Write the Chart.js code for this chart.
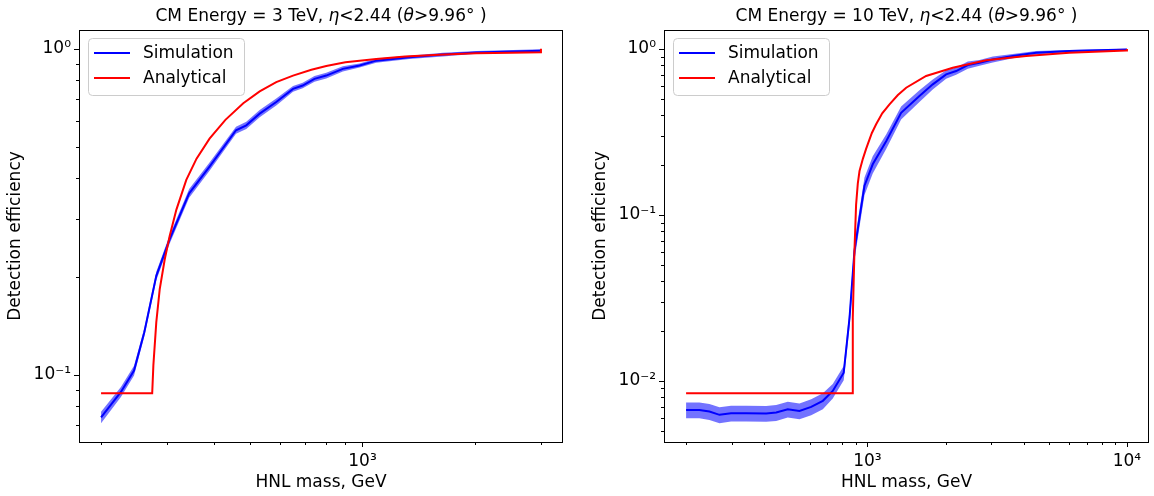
<!DOCTYPE html>
<html>
<head>
<meta charset="utf-8">
<script src="https://cdn.jsdelivr.net/npm/chart.js@4.4.1/dist/chart.umd.min.js"></script>
<style>
  html, body { margin: 0; padding: 0; background: #fff; }
  #wrap { position: relative; width: 1154px; height: 496px; }
  .pane { position: absolute; top: 0; width: 577px; height: 496px; }
</style>
</head>
<body>
<div id="wrap">
  <div class="pane" style="left:0"><canvas id="chart3"></canvas></div>
  <div class="pane" style="left:577px"><canvas id="chart10"></canvas></div>
</div>
<script>
// ---- 3 TeV ----
const mass3Sim = [200, 226, 245, 261, 281, 305, 344, 390, 459, 489, 531, 588, 652, 692, 744, 800, 886, 982, 1088, 1335, 1640, 2015, 3000];
const eff3Sim  = [0.074, 0.0886, 0.103, 0.135, 0.201, 0.260, 0.360, 0.435, 0.562, 0.582, 0.632, 0.686, 0.753, 0.771, 0.808, 0.827, 0.867, 0.888, 0.919, 0.941, 0.959, 0.974, 0.986];
const eff3Lo   = [0.0710, 0.0855, 0.0994, 0.131, 0.195, 0.252, 0.349, 0.422, 0.548, 0.567, 0.616, 0.669, 0.738, 0.756, 0.792, 0.810, 0.851, 0.875, 0.905, 0.930, 0.947, 0.964, 0.976];
const eff3Hi   = [0.0770, 0.0917, 0.1066, 0.139, 0.207, 0.268, 0.371, 0.448, 0.576, 0.597, 0.648, 0.703, 0.768, 0.786, 0.824, 0.844, 0.883, 0.901, 0.933, 0.952, 0.971, 0.984, 0.996];
const mass3Ana = [200, 274, 276, 281, 287, 296, 305, 318, 338, 360, 390, 430, 480, 531, 588, 652, 730, 800, 900, 1088, 1300, 1600, 2015, 2500, 3000, 3000];
const eff3Ana  = [0.0877, 0.0877, 0.107, 0.145, 0.183, 0.226, 0.266, 0.321, 0.396, 0.460, 0.530, 0.605, 0.680, 0.740, 0.790, 0.827, 0.862, 0.885, 0.908, 0.930, 0.946, 0.958, 0.968, 0.972, 0.975, 1.0];

// ---- 10 TeV ----
const mass10Sim = [200, 225, 246, 269, 298, 341, 407, 445, 493, 547, 607, 673, 735, 810, 853, 891, 932, 974, 1048, 1182, 1348, 1586, 1785, 2010, 2197, 2437, 2703, 3042, 3634, 4470, 5995, 10000];
const eff10Sim  = [0.00668, 0.00668, 0.00653, 0.00624, 0.00638, 0.00638, 0.00636, 0.00644, 0.00675, 0.00659, 0.00697, 0.00758, 0.00870, 0.0112, 0.024, 0.0607, 0.0964, 0.150, 0.202, 0.279, 0.413, 0.522, 0.613, 0.704, 0.737, 0.801, 0.827, 0.866, 0.908, 0.950, 0.973, 0.995];
const eff10Lo   = [0.00595, 0.00595, 0.00581, 0.00555, 0.00568, 0.00568, 0.00566, 0.00573, 0.00601, 0.00587, 0.00620, 0.00675, 0.00783, 0.0101, 0.0211, 0.0534, 0.0848, 0.132, 0.178, 0.251, 0.376, 0.480, 0.570, 0.662, 0.700, 0.761, 0.794, 0.831, 0.881, 0.926, 0.958, 0.985];
const eff10Hi   = [0.00741, 0.00741, 0.00725, 0.00693, 0.00708, 0.00708, 0.00706, 0.00715, 0.00749, 0.00731, 0.00774, 0.00841, 0.00957, 0.0123, 0.0269, 0.0680, 0.108, 0.168, 0.226, 0.307, 0.450, 0.564, 0.656, 0.746, 0.774, 0.841, 0.860, 0.901, 0.935, 0.974, 0.988, 1.005];
const mass10Ana = [200, 878, 878, 885, 891, 904, 918, 932, 960, 988, 1003, 1040, 1080, 1140, 1216, 1310, 1410, 1683, 2132, 2865, 4090, 5995, 9940, 10000];
const eff10Ana  = [0.00843, 0.00843, 0.024, 0.040, 0.0607, 0.115, 0.155, 0.184, 0.218, 0.250, 0.267, 0.312, 0.352, 0.410, 0.464, 0.528, 0.585, 0.688, 0.772, 0.855, 0.908, 0.950, 0.982, 1.0];

const FONT = '"DejaVu Sans", sans-serif';
const FS = 17;
const SUP = { '0': '⁰', '1': '¹', '2': '²', '3': '³', '4': '⁴', '5': '⁵', '6': '⁶', '7': '⁷', '8': '⁸', '9': '⁹', '-': '⁻' };

function powLabel(v) {
  const e = Math.log10(v);
  const n = Math.round(e);
  if (Math.abs(e - n) > 1e-6) return '';
  return '10' + String(n).split('').map(c => SUP[c]).join('');
}

// all k*10^n decade ticks inside [min, max]
function logTicks(min, max) {
  const out = [];
  for (let n = Math.floor(Math.log10(min)); n <= Math.ceil(Math.log10(max)); n++) {
    for (let k = 1; k <= 9; k++) {
      const v = k * Math.pow(10, n);
      if (v >= min && v <= max) out.push({ value: v });
    }
  }
  return out;
}

const toXY = (xs, ys) => xs.map((x, i) => ({ x: x, y: ys[i] }));

// box round the plot plus major/minor tick marks
const axesFrame = {
  id: 'axesFrame',
  afterDraw(chart) {
    const { ctx, chartArea: a, scales } = chart;
    ctx.save();
    ctx.strokeStyle = '#000';
    ctx.lineWidth = 1;
    ctx.beginPath();
    scales.x.ticks.forEach(t => {
      const px = Math.round(scales.x.getPixelForValue(t.value)) + 0.5;
      const len = powLabel(t.value) ? 5 : 3;
      ctx.moveTo(px, a.bottom);
      ctx.lineTo(px, a.bottom + len);
    });
    scales.y.ticks.forEach(t => {
      const py = Math.round(scales.y.getPixelForValue(t.value)) + 0.5;
      const len = powLabel(t.value) ? 5 : 3;
      ctx.moveTo(a.left, py);
      ctx.lineTo(a.left - len, py);
    });
    ctx.stroke();
    ctx.strokeRect(Math.round(a.left) + 0.5, Math.round(a.top) + 0.5,
                   Math.round(a.right - a.left) - 1, Math.round(a.bottom - a.top));
    ctx.restore();
  }
};

// legend drawn inside the plot, upper left
const innerLegend = {
  id: 'innerLegend',
  afterDraw(chart) {
    const { ctx, chartArea: a } = chart;
    const items = chart.data.datasets.filter(d => d.label);
    ctx.save();
    ctx.font = FS + 'px ' + FONT;
    const tw = Math.max(...items.map(d => ctx.measureText(d.label).width));
    const x0 = a.left + 9, y0 = a.top + 8;
    const w = 56 + tw + 9, h = 57;
    ctx.fillStyle = 'rgba(255,255,255,0.8)';
    ctx.strokeStyle = '#cccccc';
    ctx.lineWidth = 1;
    ctx.beginPath();
    ctx.roundRect(Math.round(x0) + 0.5, Math.round(y0) + 0.5, Math.round(w), h, 4);
    ctx.fill();
    ctx.stroke();
    items.forEach((d, i) => {
      const y = y0 + 15 + i * 25;
      ctx.strokeStyle = d.borderColor;
      ctx.lineWidth = 2;
      ctx.beginPath();
      ctx.moveTo(x0 + 6, y);
      ctx.lineTo(x0 + 42, y);
      ctx.stroke();
      ctx.fillStyle = '#000';
      ctx.textBaseline = 'middle';
      ctx.fillText(d.label, x0 + 55, y + 1);
    });
    ctx.restore();
  }
};

// title with italic eta / theta
const mathTitle = {
  id: 'mathTitle',
  afterDraw(chart) {
    const parts = chart.options.plugins.mathTitle.parts;
    const { ctx, chartArea: a } = chart;
    ctx.save();
    ctx.fillStyle = '#000';
    ctx.textBaseline = 'middle';
    const fontOf = p => (p.italic ? 'italic ' : '') + FS + 'px ' + FONT;
    let total = 0;
    parts.forEach(p => { ctx.font = fontOf(p); total += ctx.measureText(p.text).width; });
    let x = (a.left + a.right) / 2 - total / 2;
    parts.forEach(p => {
      ctx.font = fontOf(p);
      ctx.fillText(p.text, x, 17);
      x += ctx.measureText(p.text).width;
    });
    ctx.restore();
  }
};

function titleParts(energy) {
  return [
    { text: 'CM Energy = ' + energy + ' TeV, ' },
    { text: 'η', italic: true },
    { text: '<2.44 (' },
    { text: 'θ', italic: true },
    { text: '>9.96° )' }
  ];
}

function makeChart(id, cfg) {
  const ctx = document.getElementById(id).getContext('2d');
  return new Chart(ctx, {
    type: 'line',
    data: {
      datasets: [
        { label: '', data: toXY(cfg.massSim, cfg.hi), borderWidth: 0, pointRadius: 0,
          backgroundColor: 'rgba(0,0,255,0.55)', fill: '+1', order: 3 },
        { label: '', data: toXY(cfg.massSim, cfg.lo), borderWidth: 0, pointRadius: 0,
          fill: false, order: 3 },
        { label: 'Simulation', data: toXY(cfg.massSim, cfg.sim), borderColor: '#0000ff',
          borderWidth: 2, pointRadius: 0, fill: false, order: 1 },
        { label: 'Analytical', data: toXY(cfg.massAna, cfg.ana), borderColor: '#ff0000',
          borderWidth: 2, pointRadius: 0, fill: false, order: 0 }
      ]
    },
    options: {
      responsive: true,
      maintainAspectRatio: false,
      animation: false,
      layout: { padding: { top: 30, right: cfg.padRight, left: 0, bottom: 0 } },
      elements: { line: { tension: 0 } },
      plugins: {
        legend: { display: false },
        tooltip: { enabled: false },
        mathTitle: { parts: titleParts(cfg.energy) }
      },
      scales: {
        x: {
          type: 'logarithmic',
          min: cfg.xMin, max: cfg.xMax,
          afterBuildTicks: s => { s.ticks = logTicks(s.min, s.max); },
          afterFit: s => { s.height = 54; },
          grid: { display: false, drawTicks: false },
          border: { display: false },
          ticks: { autoSkip: false, maxRotation: 0, padding: 9, color: '#000',
                   font: { family: FONT, size: FS }, callback: v => powLabel(v) },
          title: { display: true, text: 'HNL mass, GeV', color: '#000',
                   font: { family: FONT, size: FS }, padding: { top: 0, bottom: 3 } }
        },
        y: {
          type: 'logarithmic',
          min: cfg.yMin, max: cfg.yMax,
          afterBuildTicks: s => { s.ticks = logTicks(s.min, s.max); },
          afterFit: s => { s.width = cfg.yWidth; },
          grid: { display: false, drawTicks: false },
          border: { display: false },
          ticks: { autoSkip: false, padding: 8, color: '#000',
                   font: { family: FONT, size: FS }, callback: v => powLabel(v) },
          title: { display: true, text: 'Detection efficiency', color: '#000',
                   font: { family: FONT, size: FS }, padding: { top: cfg.yTitlePad, bottom: 0 } }
        }
      }
    },
    plugins: [axesFrame, innerLegend, mathTitle]
  });
}

makeChart('chart3', {
  energy: 3,
  massSim: mass3Sim, sim: eff3Sim, lo: eff3Lo, hi: eff3Hi,
  massAna: mass3Ana, ana: eff3Ana,
  xMin: 174.6, xMax: 3436, yMin: 0.0622, yMax: 1.141,
  yWidth: 79, padRight: 14, yTitlePad: 5
});

makeChart('chart10', {
  energy: 10,
  massSim: mass10Sim, sim: eff10Sim, lo: eff10Lo, hi: eff10Hi,
  massAna: mass10Ana, ana: eff10Ana,
  xMin: 164.4, xMax: 12163, yMin: 0.00428, yMax: 1.303,
  yWidth: 87, padRight: 5, yTitlePad: 13
});
</script>
</body>
</html>
